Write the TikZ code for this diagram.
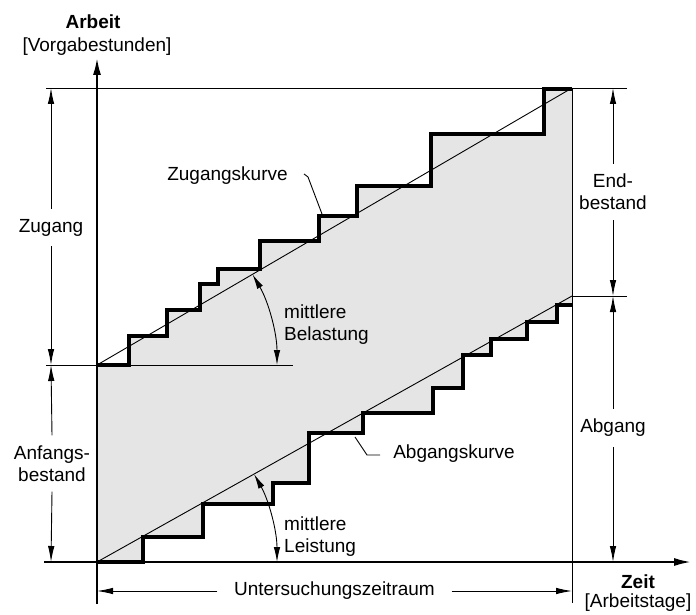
\documentclass[tikz,border=0pt]{standalone}
\usepackage{fontspec}
\setmainfont{Liberation Sans}
\usetikzlibrary{arrows.meta,calc}
\begin{document}
\begin{tikzpicture}[x=1pt,y=-1pt,
  font=\fontsize{19}{22}\selectfont,
  thinl/.style={line width=0.9pt},
  axis/.style={line width=2.6pt,-{Latex[length=18pt,width=8pt]}},
  stepline/.style={line width=3.4pt,line join=miter},
  dim/.style={line width=0.9pt,-{Latex[length=16pt,width=6.5pt]}},
  arcarrow/.style={line width=0.9pt,{Latex[length=15pt,width=6.5pt]}-{Latex[length=15pt,width=6.5pt]}},
  dimlabel/.style={inner xsep=0pt,inner ysep=10pt,align=center},
  lbl/.style={inner sep=0pt}]
\useasboundingbox (0,0) rectangle (696,615);

% key points
\coordinate (O1) at (97,365);
\coordinate (O2) at (97,562);
\coordinate (zEnd) at (572,88);
\coordinate (aEnd) at (572,296);

% stock area between the two step curves
\fill[gray!20] (97,365) -| (129,336) -| (167,310) -| (200,284) -| (218,269)
  -| (260,241) -| (319,216) -| (357,186) -| (431,134) -| (544,89) -- (572,89)
  -- (572,305) -- (557,305) |- (527,322) |- (491,339) |- (463,355) |- (433,388)
  |- (363,413) |- (309,433) |- (273,483) |- (203,504) |- (143,537) |- (97,562) -- cycle;

% reference lines
\coordinate (topL) at (46,88);   \coordinate (topR) at (627,88);
\coordinate (baseL) at (46,365); \coordinate (baseR) at (293,365);
\coordinate (endL) at (572,296); \coordinate (endR) at (627,296);
\coordinate (rTop) at (572,88);  \coordinate (rBot) at (572,603);
\draw[thinl] (topL) -- (topR);
\draw[thinl] (baseL) -- (baseR);
\draw[thinl] (endL) -- (endR);
\draw[thinl] (rTop) -- (rBot);

% mean rate lines
\draw[thinl] (O1) -- (zEnd);
\draw[thinl] (O2) -- (aEnd);

% step curves
\draw[stepline] (97,365) -| (129,336) -| (167,310) -| (200,284) -| (218,269)
  -| (260,241) -| (319,216) -| (357,186) -| (431,134) -| (544,89) -- (572,89);
\draw[stepline] (97,562) -| (143,537) -| (203,504) -| (273,483) -| (309,433)
  -| (363,413) -| (433,388) -| (463,355) -| (491,339) -| (527,322) -| (557,305) -- (572,305);

% angle arcs
\coordinate (belA) at ($(O1)+(-30.25:180)$);
\coordinate (leiA) at ($(O2)+(-29.25:180)$);
\draw[arcarrow] (belA) arc[start angle=-30.25, end angle=0, radius=180];
\draw[arcarrow] (leiA) arc[start angle=-29.25, end angle=0, radius=180];
\node[lbl,anchor=west,align=left] (bel) at (284,325) {mittlere\\Belastung};
\node[lbl,anchor=west,align=left] (lei) at (284,537) {mittlere\\Leistung};

% curve labels
\node[lbl] (zk) at (227.5,176) {Zugangskurve};
\coordinate (zk1) at (304,174);
\coordinate (zk2) at (308,177);
\coordinate (zk3) at (322,214);
\draw[thinl] (zk1) -- (zk2) -- (zk3);
\node[lbl] (ak) at (454,454) {Abgangskurve};
\coordinate (ak1) at (355,437);
\coordinate (ak2) at (367,455);
\coordinate (ak3) at (380,455);
\draw[thinl] (ak1) -- (ak2) -- (ak3);

% left dimensions
\coordinate (lTop) at (51,88);
\coordinate (lMid) at (51,365);
\coordinate (lBot) at (51,562);
\node[dimlabel] (zug) at (51,227.5) {Zugang};
\node[dimlabel] (anf) at (52,463.5) {Anfangs-\\bestand};
\draw[dim] (zug.north) -- (lTop);
\draw[dim] (zug.south) -- (lMid);
\draw[dim] (anf.north) -- (lMid);
\draw[dim] (anf.south) -- (lBot);

% right dimensions
\coordinate (rdTop) at (613,88);
\coordinate (rdMid) at (613,296);
\coordinate (rdBot) at (613,562);
\node[dimlabel] (endb) at (613,192) {End-\\bestand};
\node[dimlabel] (abg) at (613,428) {Abgang};
\draw[dim] (endb.north) -- (rdTop);
\draw[dim] (endb.south) -- (rdMid);
\draw[dim] (abg.north) -- (rdMid);
\draw[dim] (abg.south) -- (rdBot);

% period
\coordinate (pL) at (97,591);
\coordinate (pR) at (572,591);
\node[inner xsep=16.5pt,inner ysep=0pt] (per) at (334.5,591) {Untersuchungszeitraum};
\draw[dim] (per.west) -- (pL);
\draw[dim] (per.east) -- (pR);

% axes
\coordinate (yBot) at (97,604); \coordinate (yTop) at (97,57);
\coordinate (xL) at (44,562);   \coordinate (xR) at (692,562);
\draw[axis] (yBot) -- (yTop);
\draw[axis] (xL) -- (xR);

% axis titles
\node[lbl,font=\fontsize{19}{22}\selectfont\bfseries] (arb) at (93,22) {Arbeit};
\node[lbl] (arbu) at (97,47) {[Vorgabestunden]};
\node[lbl,font=\fontsize{19}{22}\selectfont\bfseries] (zeit) at (638,582) {Zeit};
\node[lbl] (zeitu) at (638,603) {[Arbeitstage]};
\end{tikzpicture}
\end{document}
